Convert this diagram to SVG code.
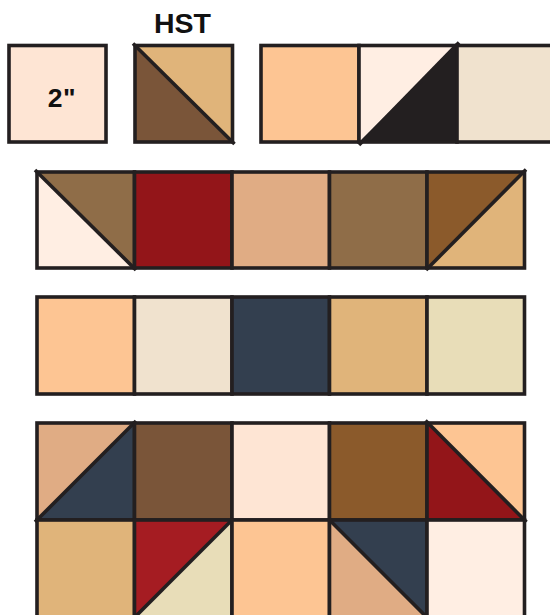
<svg xmlns="http://www.w3.org/2000/svg" width="550" height="615" viewBox="0 0 550 615">
<style>
.o{fill:none;stroke:#231F20;stroke-width:3.6}
.d{stroke:#231F20;stroke-width:3.6;stroke-linecap:butt}
.t{font-family:"Liberation Sans",Arial,sans-serif;font-weight:bold;fill:#111;text-anchor:middle}
</style>
<rect width="550" height="615" fill="#ffffff"/>
<text class="t" x="182.5" y="33" font-size="28.5">HST</text>
<!-- top row -->
<g id="sq-2in">
<rect x="9" y="45.5" width="97" height="96.5" fill="#FEE5D4"/>
<rect class="o" x="9" y="45.5" width="97" height="96.5"/>
<text class="t" x="62" y="107" font-size="26.5" letter-spacing="0.5">2"</text>
</g>
<g id="hst-sample">
<rect x="135" y="45.5" width="97.5" height="96.5" fill="#E0B47A"/>
<polygon points="135,45.5 135,142 232.5,142" fill="#7A5539"/>
<rect class="o" x="135" y="45.5" width="97.5" height="96.5"/>
<line class="d" x1="133" y1="43.5" x2="234.5" y2="144"/>
</g>
<g id="top-1">
<rect x="261" y="45.5" width="98" height="96.5" fill="#FDC593"/>
<rect class="o" x="261" y="45.5" width="98" height="96.5"/>
</g>
<g id="top-2">
<polygon points="359,45.5 457,45.5 359,142" fill="#FFEEE3"/>
<polygon points="457,45.5 457,142 359,142" fill="#231F20"/>
<rect class="o" x="359" y="45.5" width="98" height="96.5"/>
<line class="d" x1="359" y1="145" x2="459" y2="42.5"/>
</g>
<g id="top-3">
<rect x="457" y="45.5" width="100" height="96.5" fill="#F0E2CE"/>
<rect class="o" x="457" y="45.5" width="100" height="96.5"/>
</g>
<!-- row 2 -->
<g id="r2-1">
<polygon points="37,172 134.5,172 134.5,268" fill="#8F6D48"/>
<polygon points="37,172 37,268 134.5,268" fill="#FFEEE3"/>
<rect class="o" x="37" y="172" width="97.5" height="96"/>
<line class="d" x1="35" y1="170" x2="136" y2="270"/>
</g>
<g id="r2-2">
<rect x="134.5" y="172" width="97.5" height="96" fill="#931519"/>
<rect class="o" x="134.5" y="172" width="97.5" height="96"/>
</g>
<g id="r2-3">
<rect x="232" y="172" width="97.5" height="96" fill="#E0AC84"/>
<rect class="o" x="232" y="172" width="97.5" height="96"/>
</g>
<g id="r2-4">
<rect x="329.5" y="172" width="97.5" height="96" fill="#8F6D48"/>
<rect class="o" x="329.5" y="172" width="97.5" height="96"/>
</g>
<g id="r2-5">
<polygon points="427,172 524.5,172 427,268" fill="#8B5A2B"/>
<polygon points="524.5,172 524.5,268 427,268" fill="#E0B47A"/>
<rect class="o" x="427" y="172" width="97.5" height="96"/>
<line class="d" x1="426" y1="270" x2="526" y2="169.5"/>
</g>
<!-- row 3 -->
<g id="r3-1">
<rect x="37" y="297" width="97.5" height="97" fill="#FDC593"/>
<rect class="o" x="37" y="297" width="97.5" height="97"/>
</g>
<g id="r3-2">
<rect x="134.5" y="297" width="97.5" height="97" fill="#F0E2CE"/>
<rect class="o" x="134.5" y="297" width="97.5" height="97"/>
</g>
<g id="r3-3">
<rect x="232" y="297" width="97.5" height="97" fill="#333F4F"/>
<rect class="o" x="232" y="297" width="97.5" height="97"/>
</g>
<g id="r3-4">
<rect x="329.5" y="297" width="97.5" height="97" fill="#E0B47A"/>
<rect class="o" x="329.5" y="297" width="97.5" height="97"/>
</g>
<g id="r3-5">
<rect x="427" y="297" width="97.5" height="97" fill="#E8DDB8"/>
<rect class="o" x="427" y="297" width="97.5" height="97"/>
</g>
<!-- row 4 -->
<g id="r4-1">
<polygon points="37,423 134.5,423 37,520" fill="#E0AC84"/>
<polygon points="134.5,423 134.5,520 37,520" fill="#333F4F"/>
<rect class="o" x="37" y="423" width="97.5" height="97"/>
<line class="d" x1="35" y1="522" x2="136" y2="421"/>
</g>
<g id="r4-2">
<rect x="134.5" y="423" width="97.5" height="97" fill="#7A5539"/>
<rect class="o" x="134.5" y="423" width="97.5" height="97"/>
</g>
<g id="r4-3">
<rect x="232" y="423" width="97.5" height="97" fill="#FEE5D4"/>
<rect class="o" x="232" y="423" width="97.5" height="97"/>
</g>
<g id="r4-4">
<rect x="329.5" y="423" width="97.5" height="97" fill="#8B5A2B"/>
<rect class="o" x="329.5" y="423" width="97.5" height="97"/>
</g>
<g id="r4-5">
<polygon points="427,423 524.5,423 524.5,520" fill="#FDC593"/>
<polygon points="427,423 427,520 524.5,520" fill="#931519"/>
<rect class="o" x="427" y="423" width="97.5" height="97"/>
<line class="d" x1="425.5" y1="420.5" x2="526.5" y2="522"/>
</g>
<!-- row 5 -->
<g id="r5-1">
<rect x="37" y="520" width="97.5" height="98" fill="#E0B47A"/>
<rect class="o" x="37" y="520" width="97.5" height="98"/>
</g>
<g id="r5-2">
<polygon points="134.5,520 232,520 134.5,617.5" fill="#A51C22"/>
<polygon points="232,520 232,617.5 134.5,617.5" fill="#E8DDB8"/>
<rect class="o" x="134.5" y="520" width="97.5" height="98"/>
<line class="d" x1="134.5" y1="617.5" x2="233" y2="519"/>
</g>
<g id="r5-3">
<rect x="232" y="520" width="97.5" height="98" fill="#FDC593"/>
<rect class="o" x="232" y="520" width="97.5" height="98"/>
</g>
<g id="r5-4">
<polygon points="329.5,520 427,520 427,617.5" fill="#333F4F"/>
<polygon points="329.5,520 329.5,617.5 427,617.5" fill="#E0AC84"/>
<rect class="o" x="329.5" y="520" width="97.5" height="98"/>
<line class="d" x1="328.5" y1="519" x2="427" y2="617.5"/>
</g>
<g id="r5-5">
<rect x="427" y="520" width="97.5" height="98" fill="#FFEEE3"/>
<rect class="o" x="427" y="520" width="97.5" height="98"/>
</g>
<g id="connectors"/>
</svg>
